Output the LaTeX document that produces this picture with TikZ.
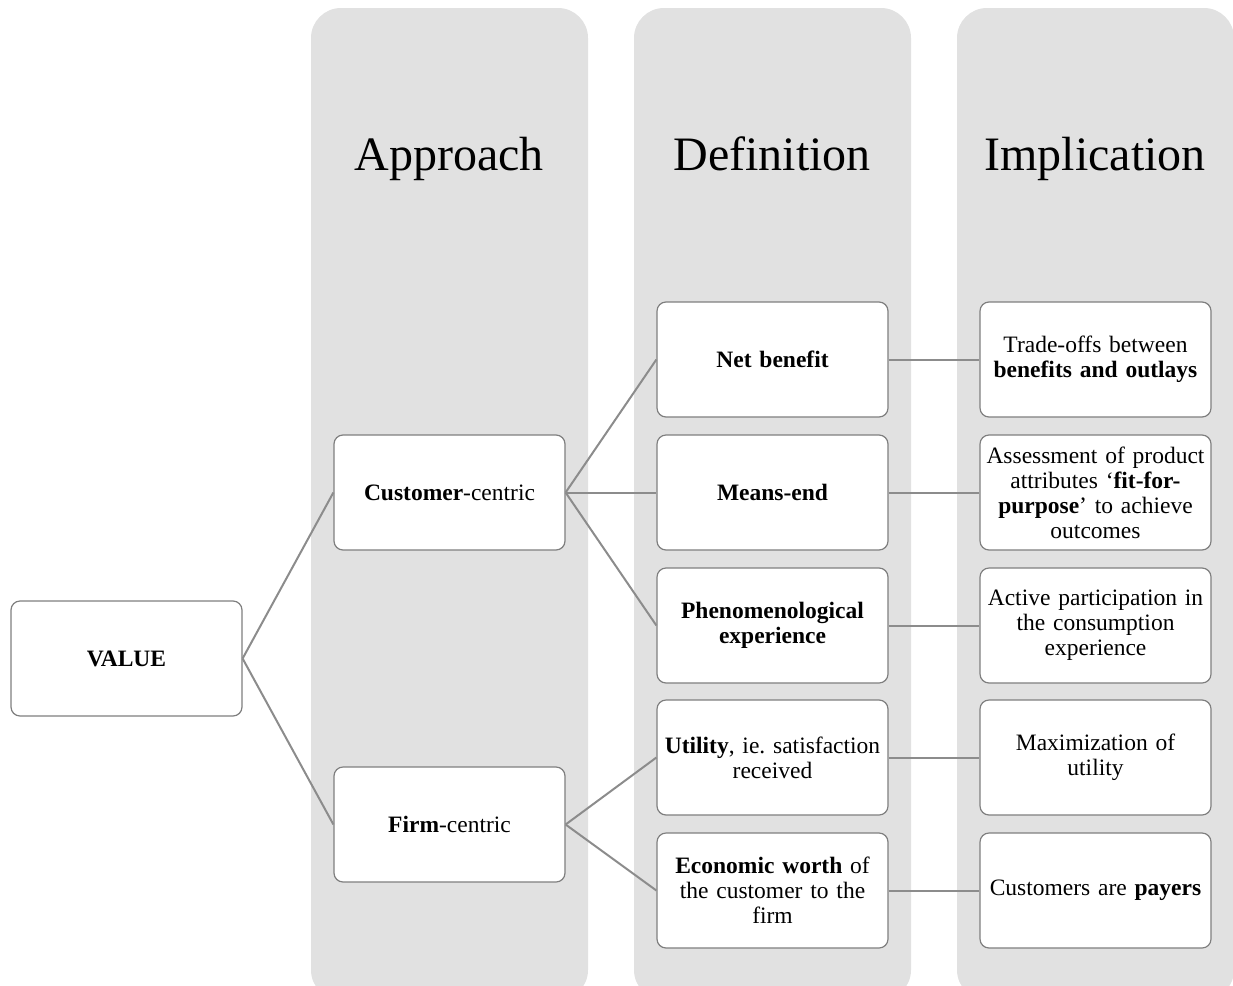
\documentclass[tikz,border=0pt]{standalone}
\usepackage{fontspec}
\setmainfont{Liberation Serif}
\frenchspacing
\definecolor{colfill}{HTML}{E1E1E1}
\definecolor{boxline}{HTML}{7F7F7F}
\definecolor{linkgray}{HTML}{8C8C8C}
\tikzset{
    column/.style={fill=colfill, rounded corners=30pt},
    box/.style={draw=boxline, line width=1.2pt, fill=white, rounded corners=9pt,
        minimum width=231pt, minimum height=115pt, text width=228pt,
        align=center, inner sep=0pt, font=\fontsize{23.5}{25}\selectfont},
    link/.style={draw=linkgray, line width=2pt},
    heading/.style={anchor=base, font=\fontsize{48}{52}\selectfont}
}
\begin{document}
\begin{tikzpicture}[x=1pt, y=-1pt]
            \useasboundingbox (0, 0) rectangle (1233, 985);
            \begin{scope}
                \clip (0, 0) rectangle (1233, 985);
                \fill[column] (311, 8) rectangle (588, 1000);
                \fill[column] (634, 8) rectangle (911, 1000);
                \fill[column] (957, 8) rectangle (1234, 1000);
            \end{scope}
            \node[heading] (approach) at (449, 170) {Approach};
            \node[heading] (definition) at (772, 170) {Definition};
            \node[heading] (implication) at (1095, 170) {Implication};
            % first column
            \node[box] (value) at (126.5, 658.5) {\textbf{VALUE}};
            % approach
            \node[box] (customer) at (449.5, 492.5) {\textbf{Customer}-centric};
            \node[box] (firm) at (449.5, 824.5) {\textbf{Firm}-centric};
            % definition
            \node[box] (netbenefit) at (772.5, 359.5) {\textbf{Net benefit}};
            \node[box] (meansend) at (772.5, 492.5) {\textbf{Means-end}};
            \node[box] (phenom) at (772.5, 625.5) {\textbf{Phenomenological}\\\textbf{experience}};
            \node[box] (utility) at (772.5, 757.5) {\textbf{Utility}, ie. satisfaction\\received};
            \node[box] (economic) at (772.5, 890.5) {\textbf{Economic worth} of\\the customer to the\\firm};
            % implication
            \node[box] (tradeoffs) at (1095.5, 359.5) {Trade-offs between\\\textbf{benefits and outlays}};
            \node[box] (assessment) at (1095.5, 492.5) {Assessment of product\\attributes `\textbf{fit-for-}\\\textbf{purpose}' to achieve\\outcomes};
            \node[box] (participation) at (1095.5, 625.5) {Active participation in\\the consumption\\experience};
            \node[box] (maximization) at (1095.5, 757.5) {Maximization of\\utility};
            \node[box] (payers) at (1095.5, 890.5) {Customers are \textbf{payers}};
            % links
            \draw[link] (value.east) -- (customer.west);
            \draw[link] (value.east) -- (firm.west);
            \draw[link] (customer.east) -- (netbenefit.west);
            \draw[link] (customer.east) -- (meansend.west);
            \draw[link] (customer.east) -- (phenom.west);
            \draw[link] (firm.east) -- (utility.west);
            \draw[link] (firm.east) -- (economic.west);
            \draw[link] (netbenefit.east) -- (tradeoffs.west);
            \draw[link] (meansend.east) -- (assessment.west);
            \draw[link] (phenom.east) -- (participation.west);
            \draw[link] (utility.east) -- (maximization.west);
            \draw[link] (economic.east) -- (payers.west);
        \end{tikzpicture}
\end{document}
